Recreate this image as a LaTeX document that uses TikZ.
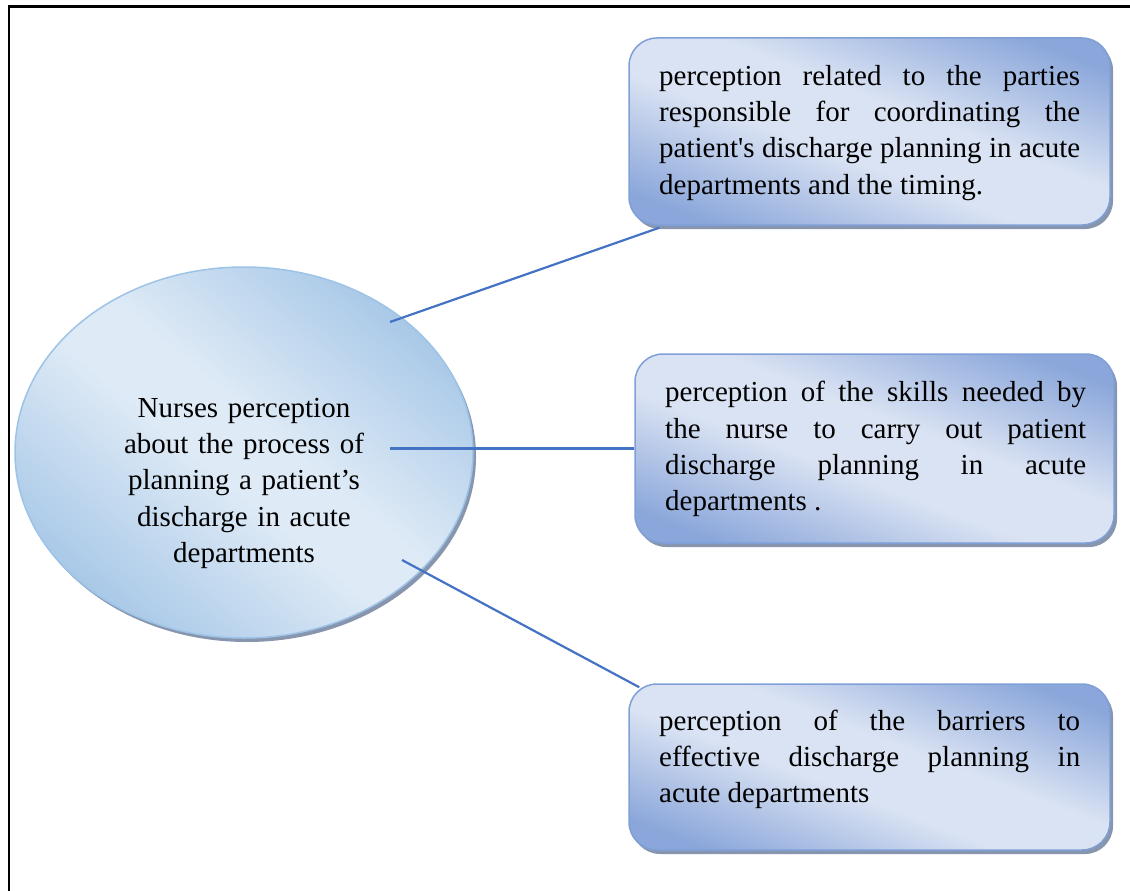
\documentclass[tikz,border=0pt]{standalone}
\usepackage{fontspec}
\setmainfont{Liberation Serif}
\usetikzlibrary{shapes.geometric,shadows}

\definecolor{boxdark}{HTML}{8AA6DA}
\definecolor{boxlight}{HTML}{DAE3F3}
\definecolor{boxline}{HTML}{7F9FD7}
\definecolor{hubdark}{HTML}{A6C7E7}
\definecolor{hublight}{HTML}{DEEAF6}
\definecolor{hubline}{HTML}{9DC3E6}
\definecolor{shadowc}{HTML}{8796AE}
\definecolor{linkc}{HTML}{4472C4}

% diagonal gradients: dark corners, light band along the other diagonal
\pgfdeclarehorizontalshading{boxgrad}{100bp}{color(0bp)=(boxdark); color(23bp)=(boxdark); color(44bp)=(boxlight); color(56bp)=(boxlight); color(77bp)=(boxdark); color(100bp)=(boxdark)}
\pgfdeclarehorizontalshading{hubgrad}{100bp}{color(0bp)=(hubdark); color(24bp)=(hubdark); color(46bp)=(hublight); color(54bp)=(hublight); color(76bp)=(hubdark); color(100bp)=(hubdark)}

\hbadness=10000

\begin{document}
\begin{tikzpicture}[x=1pt,y=-1pt,
  topic/.style={rectangle, rounded corners=28pt, draw=boxline, line width=1.5pt,
    shading=boxgrad, shading angle=69, inner sep=0pt,
    drop shadow={shadow xshift=3pt, shadow yshift=-4pt, fill=shadowc, opacity=1}},
  hub/.style={ellipse, draw=hubline, line width=1.5pt, shading=hubgrad, shading angle=50,
    inner sep=0pt, minimum width=458pt, minimum height=371pt,
    drop shadow={shadow xshift=3pt, shadow yshift=-4pt, fill=shadowc, opacity=1}},
  boxtext/.style={inner sep=0pt, text width=421pt, align=justify,
    font=\fontsize{29}{36.3}\selectfont},
  hubtext/.style={inner sep=0pt, text width=320pt, align=center,
    font=\fontsize{29}{36.3}\selectfont},
  link/.style={draw=linkc, line width=2.2pt}
]
\useasboundingbox (0,0) rectangle (1130,891);

% page frame (left and top rules)
\draw[line width=2.5pt] (9,891) -- (9,6.5) -- (1130,6.5);

% central topic
\node[hub] (hub) at (244,452.5) {};
\node[hubtext, anchor=north] (hubt) at (244,391.6)
  {\strut Nurses perception\\about the process of\\planning a patient’s\\discharge in acute\\departments};

% sub-topics
\node[topic, minimum width=481pt, minimum height=187pt] (b1) at (869.5,131.5) {};
\node[topic, minimum width=479pt, minimum height=189pt] (b2) at (874.5,448.5) {};
\node[topic, minimum width=481pt, minimum height=166pt] (b3) at (869.5,767) {};

\node[boxtext, anchor=north west] (t1) at (659,59.6)
  {\strut perception related to the parties\linebreak
   responsible for coordinating the\linebreak
   patient\textquotesingle s discharge planning in acute\linebreak
   departments and the timing.};
\node[boxtext, anchor=north west] (t2) at (665,376.3)
  {\strut perception of the skills needed by\linebreak
   the nurse to carry out patient\linebreak
   discharge planning in acute\linebreak
   departments .};
\node[boxtext, anchor=north west] (t3) at (659,704.6)
  {\strut perception of the barriers to\linebreak
   effective discharge planning in\linebreak
   acute departments};

% connectors
\coordinate (h1) at (390,322);
\coordinate (h2) at (390,448.5);
\coordinate (h3) at (402,560);
\draw[link] (h1) -- ([xshift=31pt,yshift=-2pt]b1.south west);
\draw[link] (h2) -- (b2.west);
\draw[link] (h3) -- ([xshift=11pt,yshift=-4pt]b3.north west);
\end{tikzpicture}
\end{document}
